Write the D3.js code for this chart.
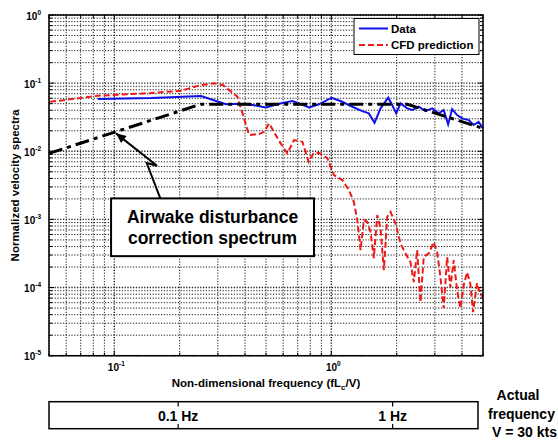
<!DOCTYPE html>
<html><head><meta charset="utf-8">
<script src="https://cdn.jsdelivr.net/npm/d3@7"></script>
<style>
html,body{margin:0;padding:0;background:#fff;}
text{font-family:"Liberation Sans",Arial,sans-serif;font-weight:bold;fill:#000;}
</style></head>
<body><svg id="c" width="558" height="440"></svg>
<script>
// ---- data ----
const blueF = [0.084,0.148,0.251,0.327,0.376,0.434,0.499,0.574,0.662,0.710,0.789,0.877,1.003,1.124,1.249,1.389,1.489,1.582,1.686,1.829,1.908,1.991,2.084,2.237,2.359,2.529,2.716,2.915,3.126,3.295,3.453,3.603,3.799,4.006,4.296,4.529,4.774,5.0];
const blueV = [0.0584,0.0604,0.0647,0.0489,0.0499,0.0477,0.0441,0.0499,0.0546,0.0505,0.0441,0.0489,0.0611,0.0533,0.045,0.0389,0.036,0.0262,0.0427,0.0611,0.0477,0.036,0.0505,0.0427,0.0403,0.045,0.0389,0.0427,0.036,0.0403,0.0248,0.0417,0.034,0.0304,0.0287,0.0243,0.0271,0.0217];
const redF = [0.0506,0.0839,0.1475,0.2027,0.2506,0.2884,0.3162,0.3694,0.4178,0.4645,0.4898,0.5164,0.5544,0.5845,0.6274,0.673,0.7356,0.786,0.8291,0.877,0.9585,1.028,1.124,1.205,1.27,1.317,1.364,1.413,1.464,1.516,1.570,1.628,1.686,1.746,1.81,1.874,1.976,2.084,2.197,2.316,2.399,2.486,2.575,2.667,2.812,2.965,3.074,3.183,3.296,3.417,3.538,3.664,3.799,3.934,4.074,4.223,4.373,4.5,4.695,4.862,5.0];
const redV = [0.0533,0.0653,0.0715,0.0773,0.0938,0.0993,0.0938,0.0631,0.0173,0.0179,0.0193,0.0257,0.0173,0.01306,0.00931,0.0146,0.01378,0.00701,0.0094,0.0095,0.00795,0.00447,0.00378,0.00269,0.00181,0.000977,0.000354,0.000977,0.000922,0.000651,0.00027,0.001157,0.000738,0.00018,0.001092,0.001293,0.000874,0.000444,0.000317,0.000236,0.00012,0.000354,0.000061,0.000282,0.000317,0.000464,0.000331,0.000142,0.0000498,0.000279,0.000101,0.000253,0.0000916,0.0000498,0.000108,0.000168,0.000112,0.0000435,0.000116,0.00008,0.0000723];
const corrF = [0.05, 0.25, 2.24, 5];
const corrV = [0.0093, 0.049, 0.049, 0.0217];
const xDomain = [0.05, 5];
const yDomain = [1e-5, 1];
const xTickExp = [-1, 0];
const yTickExp = [0, -1, -2, -3, -4, -5];
const hzDomain = [0.025, 2.5];
const hzTicks = [0.1, 1];
const hzLabels = ["0.1 Hz", "1 Hz"];
const seriesNames = ["Data", "CFD prediction"];
const annotationLines = ["Airwake disturbance", "correction spectrum"];
const actualLines = ["Actual", "frequency", "V = 30 kts"];

// ---- layout ----
const svg = d3.select("#c");
const L = 49, R = 483, T = 15, B = 355.7;
const x = d3.scaleLog().domain(xDomain).range([L, R]);
const y = d3.scaleLog().domain(yDomain).range([B, T]);

const xGrid = [], yGrid = [];
for (let e = -2; e <= 0; e++) for (let k = 1; k <= 9; k++) { const v = k * Math.pow(10, e); if (v >= xDomain[0] - 1e-9 && v <= xDomain[1] + 1e-9) xGrid.push(v); }
for (let e = -5; e <= -1; e++) for (let k = 1; k <= 9; k++) yGrid.push(k * Math.pow(10, e));
yGrid.push(1);
const isMajor = v => Math.abs(Math.log10(v) - Math.round(Math.log10(v))) < 1e-6;

const grid = svg.append("g").attr("stroke", "#1a1a1a").attr("stroke-dasharray", "1.2,1.6");
grid.selectAll("line.vx").data(xGrid).join("line").attr("class","vx")
  .attr("stroke-width", d => isMajor(d) ? 1.4 : 1)
  .attr("x1", d => x(d)).attr("x2", d => x(d)).attr("y1", T).attr("y2", B);
grid.selectAll("line.hy").data(yGrid).join("line").attr("class","hy")
  .attr("stroke-width", d => isMajor(d) ? 1.4 : 1)
  .attr("x1", L).attr("x2", R).attr("y1", d => y(d)).attr("y2", d => y(d));

// ticks (inward, all sides)
const tk = svg.append("g").attr("stroke", "#000").attr("stroke-width", 1);
xGrid.forEach(v => { const len = isMajor(v) ? 5 : 3; const px = x(v);
  tk.append("line").attr("x1", px).attr("x2", px).attr("y1", B).attr("y2", B - len);
  tk.append("line").attr("x1", px).attr("x2", px).attr("y1", T).attr("y2", T + len); });
yGrid.forEach(v => { const len = isMajor(v) ? 5 : 3; const py = y(v);
  tk.append("line").attr("x1", L).attr("x2", L + len).attr("y1", py).attr("y2", py);
  tk.append("line").attr("x1", R).attr("x2", R - len).attr("y1", py).attr("y2", py); });

// series
const line = d3.line().x(d => x(d[0])).y(d => y(d[1]));
svg.append("path").datum(blueF.map((f, i) => [f, blueV[i]])).attr("d", line)
  .attr("fill", "none").attr("stroke", "#1010e8").attr("stroke-width", 2);
svg.append("path").datum(redF.map((f, i) => [f, redV[i]])).attr("d", line)
  .attr("fill", "none").attr("stroke", "#ee1a1a").attr("stroke-width", 2).attr("stroke-dasharray", "6,3");
svg.append("path").datum(corrF.map((f, i) => [f, corrV[i]])).attr("d", line)
  .attr("fill", "none").attr("stroke", "#000").attr("stroke-width", 3).attr("stroke-dasharray", "14,5,4,5");

// frame
svg.append("rect").attr("x", L).attr("y", T).attr("width", R - L).attr("height", B - T)
  .attr("fill", "none").attr("stroke", "#000").attr("stroke-width", 1.5);

// tick labels
yTickExp.forEach(e => {
  const t = svg.append("text").attr("x", 41).attr("y", y(Math.pow(10, e)) + 4.5).attr("text-anchor", "end").attr("font-size", 10);
  t.append("tspan").text("10");
  t.append("tspan").attr("dy", -5).attr("font-size", 6.5).text(String(e));
});
xTickExp.forEach(e => {
  const t = svg.append("text").attr("x", x(Math.pow(10, e)) + 2).attr("y", 371).attr("text-anchor", "middle").attr("font-size", 10);
  t.append("tspan").text("10");
  t.append("tspan").attr("dy", -5).attr("font-size", 6.5).text(String(e));
});

// axis labels
const xl = svg.append("text").attr("x", (L + R) / 2).attr("y", 387).attr("text-anchor", "middle").attr("font-size", 11.5);
xl.append("tspan").text("Non-dimensional frequency (fL");
xl.append("tspan").attr("font-size", 8).attr("dy", 3).text("c");
xl.append("tspan").attr("dy", -3).text("/V)");
svg.append("text").attr("transform", `translate(19,${(T + B) / 2}) rotate(-90)`).attr("text-anchor", "middle").attr("font-size", 11.5).text("Normalized velocity spectra");

// legend
const lg = svg.append("g");
lg.append("rect").attr("x", 354).attr("y", 18.5).attr("width", 125).attr("height", 36).attr("fill", "#fff").attr("stroke", "#000").attr("stroke-width", 1);
lg.append("line").attr("x1", 359).attr("x2", 388).attr("y1", 28.5).attr("y2", 28.5).attr("stroke", "#1010e8").attr("stroke-width", 2);
lg.append("line").attr("x1", 359).attr("x2", 388).attr("y1", 45).attr("y2", 45).attr("stroke", "#ee1a1a").attr("stroke-width", 2).attr("stroke-dasharray", "6,3");
lg.append("text").attr("x", 391).attr("y", 32.5).attr("font-size", 11.5).text(seriesNames[0]);
lg.append("text").attr("x", 391).attr("y", 49).attr("font-size", 11.5).text(seriesNames[1]);

// annotation arrow + box (anchored in data space)
const tip = [x(0.1018), y(0.01832)];
const bx0 = x(0.0966), bx1 = x(0.832), by0 = y(0.002034), by1 = y(0.000289);
const ann = svg.append("g");
const arrowPts = [tip, [tip[0] + 41, tip[1] + 32.4], [tip[0] + 30.7, tip[1] + 29.7], [tip[0] + 44.3, by0]];
ann.append("path").attr("d", d3.line()(arrowPts)).attr("fill", "none").attr("stroke", "#000").attr("stroke-width", 2);
const ang = Math.atan2(arrowPts[1][1] - tip[1], arrowPts[1][0] - tip[0]);
const hl = 10, hw = 4.5;
const hp = [tip,
  [tip[0] + hl * Math.cos(ang) - hw * Math.sin(ang), tip[1] + hl * Math.sin(ang) + hw * Math.cos(ang)],
  [tip[0] + hl * Math.cos(ang) + hw * Math.sin(ang), tip[1] + hl * Math.sin(ang) - hw * Math.cos(ang)]];
ann.append("path").attr("d", d3.line()(hp) + "Z").attr("fill", "#000");
ann.append("rect").attr("x", bx0).attr("y", by0).attr("width", bx1 - bx0).attr("height", by1 - by0)
  .attr("fill", "#fff").attr("stroke", "#000").attr("stroke-width", 2);
annotationLines.forEach((s, i) => ann.append("text").attr("x", (bx0 + bx1) / 2).attr("y", by0 + 25 + i * 21)
  .attr("text-anchor", "middle").attr("font-size", 17.5).text(s));

// actual-frequency bar
const hz = d3.scaleLog().domain(hzDomain).range([49, 478]);
const hb = svg.append("g");
hb.append("rect").attr("x", hz(hzDomain[0])).attr("y", 401.7).attr("width", hz(hzDomain[1]) - hz(hzDomain[0])).attr("height", 27)
  .attr("fill", "#fff").attr("stroke", "#000").attr("stroke-width", 1.5);
hzTicks.forEach((v, i) => {
  const px = hz(v);
  hb.append("line").attr("x1", px).attr("x2", px).attr("y1", 401.7).attr("y2", 406.5).attr("stroke", "#000").attr("stroke-width", 1.2);
  hb.append("line").attr("x1", px).attr("x2", px).attr("y1", 428.7).attr("y2", 424).attr("stroke", "#000").attr("stroke-width", 1.2);
  hb.append("text").attr("x", px).attr("y", 420.5).attr("text-anchor", "middle").attr("font-size", 14).text(hzLabels[i]);
});
const ax = [518, 521.5, 524.5], ay = [400, 419, 436.5];
actualLines.forEach((s, i) => svg.append("text").attr("x", ax[i]).attr("y", ay[i]).attr("text-anchor", "middle").attr("font-size", 14).text(s));
</script></body></html>
